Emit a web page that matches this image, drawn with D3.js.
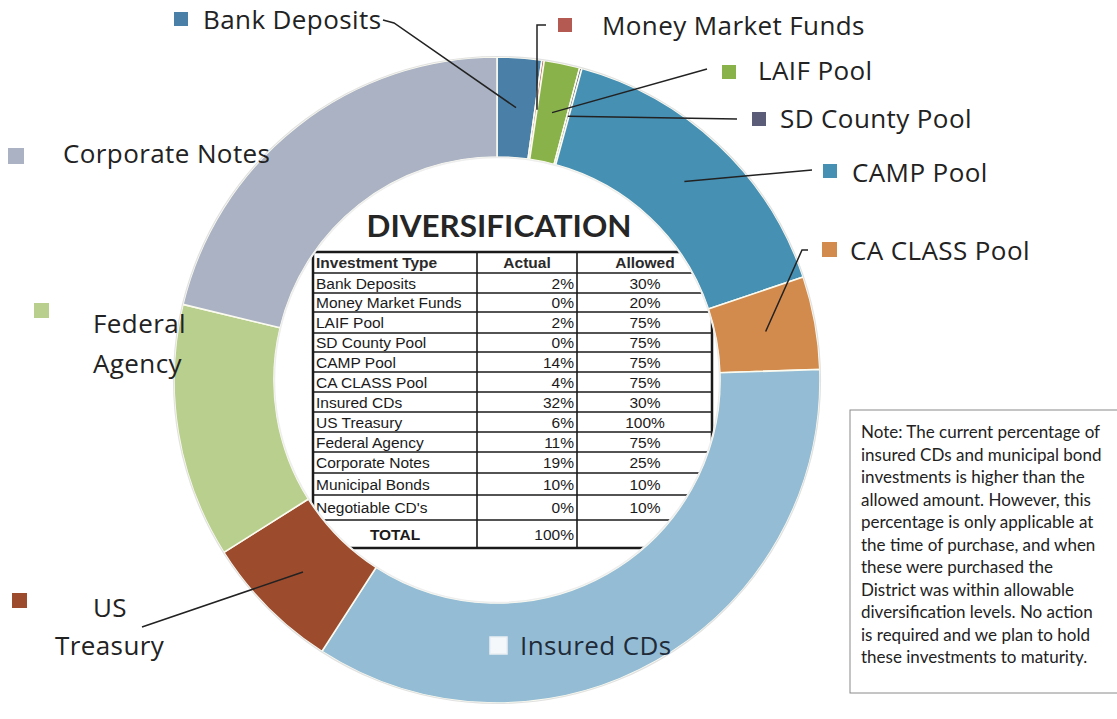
<!DOCTYPE html>
<html><head><meta charset="utf-8">
<script src="https://cdn.jsdelivr.net/npm/d3@7"></script>
<style>html,body{margin:0;padding:0;background:#fff;}svg{display:block;}</style>
</head><body>
<svg id="c" width="1117" height="719"></svg>
<script>
// ---- data ----
const categories = ["Bank Deposits","Money Market Funds","LAIF Pool","SD County Pool","CAMP Pool","CA CLASS Pool","Insured CDs","US Treasury","Federal Agency","Corporate Notes"];
const ringValues = [2.22, 0.12, 1.78, 0.12, 15.6, 4.64, 34.64, 6.92, 12.72, 21.24];
const colors = ["#4a80a8","#b55a52","#89b34a","#5b5d78","#4690b4","#d38a4d","#94bdd5","#9d4b2d","#b9cf8d","#aab2c3"];

const tableTypes = ["Bank Deposits","Money Market Funds","LAIF Pool","SD County Pool","CAMP Pool","CA CLASS Pool","Insured CDs","US Treasury","Federal Agency","Corporate Notes","Municipal Bonds","Negotiable CD's"];
const tableActual = ["2%","0%","2%","0%","14%","4%","32%","6%","11%","19%","10%","0%"];
const tableAllowed = ["30%","20%","75%","75%","75%","75%","30%","100%","75%","25%","10%","10%"];
const tableTotal = "100%";

const noteLines = ["Note: The current percentage of","insured CDs and municipal bond","investments is higher than the","allowed amount. However, this","percentage is only applicable at","the time of purchase, and when","these were purchased the","District was within allowable","diversification levels. No action","is required and we plan to hold","these investments to maturity."];

// ---- layout ----
const svg = d3.select("#c");
svg.append("rect").attr("width",1117).attr("height",719).attr("fill","#fff");
const cx = 497, cy = 380, rOut = 323, rIn = 223;
const labelFont = "'Open Sans', Lato, sans-serif";

// ---- table ----
const tbl = svg.append("g");
const tx0 = 313, tx1 = 477, tx2 = 577, tx3 = 712;
const rowH = [21, 20, 19, 21, 19, 20, 20, 20, 20, 20, 21, 22, 25, 28];
const rowY = [252];
rowH.forEach((h,i)=>rowY.push(rowY[i]+h));
const tf = "'Liberation Sans', Arial, sans-serif";
tbl.append("text").attr("x",499).attr("y",237).attr("text-anchor","middle")
  .attr("font-family","Lato, sans-serif").attr("font-weight",700).attr("font-size",31)
  .attr("fill","#262626").attr("textLength",265).attr("lengthAdjust","spacingAndGlyphs").text("DIVERSIFICATION");
rowY.forEach((y,i)=>{
  const edge = (i===0||i===rowY.length-1);
  tbl.append("line").attr("x1",tx0).attr("x2",tx3).attr("y1",y).attr("y2",y)
    .attr("stroke","#1a1a1a").attr("stroke-width",edge?2.5:1.6);
});
[tx0,tx1,tx2,tx3].forEach((x,i)=>{
  tbl.append("line").attr("x1",x).attr("x2",x).attr("y1",rowY[0]).attr("y2",rowY[rowY.length-1])
    .attr("stroke","#1a1a1a").attr("stroke-width",(i===0||i===3)?2.5:1.6);
});
function cellY(i){return (rowY[i]+rowY[i+1])/2+5.5;}
const hdr = tbl.append("g").attr("font-family",tf).attr("font-size",15.5).attr("font-weight",700).attr("fill","#2a2a2a");
hdr.append("text").attr("x",tx0+3).attr("y",cellY(0)).text("Investment Type");
hdr.append("text").attr("x",(tx1+tx2)/2).attr("y",cellY(0)).attr("text-anchor","middle").text("Actual");
hdr.append("text").attr("x",645).attr("y",cellY(0)).attr("text-anchor","middle").text("Allowed");
const body = tbl.append("g").attr("font-family",tf).attr("font-size",15.5).attr("fill","#1a1a1a");
tableTypes.forEach((t,i)=>{
  body.append("text").attr("x",tx0+3).attr("y",cellY(i+1)).text(t);
  body.append("text").attr("x",tx2-3).attr("y",cellY(i+1)).attr("text-anchor","end").text(tableActual[i]);
  body.append("text").attr("x",645).attr("y",cellY(i+1)).attr("text-anchor","middle").text(tableAllowed[i]);
});
const last = rowY.length-2;
body.append("text").attr("x",(tx0+tx1)/2).attr("y",cellY(last)).attr("text-anchor","middle").attr("font-weight",700).text("TOTAL");
body.append("text").attr("x",tx2-3).attr("y",cellY(last)).attr("text-anchor","end").text(tableTotal);

// ---- ring ----
const pie = d3.pie().sort(null).value(d=>d)(ringValues);
const arc = d3.arc().innerRadius(rIn).outerRadius(rOut);
const ring = svg.append("g").attr("transform",`translate(${cx},${cy})`);
ring.selectAll("path").data(pie).join("path").attr("d",arc)
  .attr("fill",(d,i)=>colors[i]).attr("stroke","#fbfbf0").attr("stroke-width",1.6);
ring.append("circle").attr("r",rOut+0.5).attr("fill","none").attr("stroke","#e2e2e2").attr("stroke-width",1.2);
ring.append("circle").attr("r",rIn-0.5).attr("fill","none").attr("stroke","#eeeeee").attr("stroke-width",1.5);

// ---- labels / leader lines ----
const mid = d3.arc().innerRadius((rIn+rOut)/2).outerRadius((rIn+rOut)/2);
function anchor(i){const c = mid.centroid(pie[i]); return [c[0]+cx, c[1]+cy];}
const labels = [
  {i:0, lines:["Bank Deposits"], x:203, y:29, sq:[174,12,14], lead:[[383,20],[394,23]]},
  {i:1, lines:["Money Market Funds"], x:602, y:35, sq:[558,18,14], lead:[[546,25],[537,25]], vert:true},
  {i:2, lines:["LAIF Pool"], x:758, y:80, sq:[722,65,14], lead:[[707,69]]},
  {i:3, lines:["SD County Pool"], x:780, y:128, sq:[752,112,14], lead:[[737,119]]},
  {i:4, lines:["CAMP Pool"], x:852, y:182, sq:[823,164,14], lead:[[812,170]]},
  {i:5, lines:["CA CLASS Pool"], x:850, y:260, sq:[822,242,15], lead:[[808,250],[802,250]]},
  {i:6, lines:["Insured CDs"], x:520, y:655, sq:[490,637,17], lead:null, outline:true},
  {i:7, lines:["US","Treasury"], x:[93,55], y:[617,655], sq:[12,593,15], lead:[[142,627]]},
  {i:8, lines:["Federal","Agency"], x:[93,93], y:[333,373], sq:[34,303,15], lead:null},
  {i:9, lines:["Corporate Notes"], x:63, y:163, sq:[8,148,16], lead:null}
];
const lg = svg.append("g");
labels.forEach(L=>{
  const [sx,sy,ss] = L.sq;
  lg.append("rect").attr("x",sx).attr("y",sy).attr("width",ss).attr("height",ss)
    .attr("fill",L.outline?"#f4f8fb":colors[L.i]).attr("stroke",L.outline?"#e8eef2":"none").attr("stroke-width",1.5);
  L.lines.forEach((t,k)=>{
    const x = Array.isArray(L.x)?L.x[k]:L.x, y = Array.isArray(L.y)?L.y[k]:L.y;
    lg.append("text").attr("x",x).attr("y",y).attr("font-family",labelFont).attr("font-size",26)
      .attr("letter-spacing",0.4).attr("fill",L.i===6?"#1f2b38":"#222").text(t);
  });
  if(L.lead){
    const a = anchor(L.i);
    let pts = L.lead.slice();
    if(L.vert) pts.push([pts[pts.length-1][0], a[1]]);
    else pts.push(a);
    lg.append("path").attr("d",d3.line()(pts)).attr("fill","none").attr("stroke","#222").attr("stroke-width",1.5);
  }
});

// ---- note box ----
const nb = svg.append("g");
nb.append("rect").attr("x",850).attr("y",410).attr("width",270).attr("height",283)
  .attr("fill","#fff").attr("stroke","#8a8a8a").attr("stroke-width",1);
noteLines.forEach((t,k)=>{
  nb.append("text").attr("x",861).attr("y",438+k*22.5).attr("font-family","Lato, sans-serif")
    .attr("font-size",17).attr("fill","#222").text(t);
});
</script>
</body></html>
